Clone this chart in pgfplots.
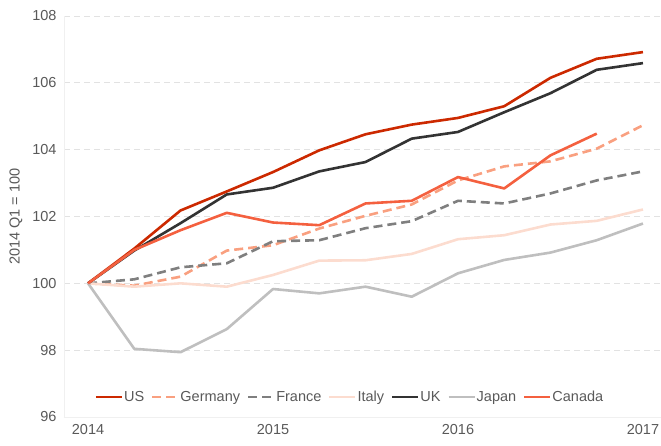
\documentclass[border=0pt]{standalone}
\usepackage{pgfplots}
\pgfplotsset{compat=1.18}
\usepackage{fontspec}
\setmainfont{Liberation Sans}
\definecolor{cUS}{HTML}{CC2900}
\definecolor{cDE}{HTML}{F9A080}
\definecolor{cFR}{HTML}{7F7F7F}
\definecolor{cIT}{HTML}{FCDCCF}
\definecolor{cUK}{HTML}{333333}
\definecolor{cJP}{HTML}{BFBFBF}
\definecolor{cCA}{HTML}{F4603F}
\definecolor{txt}{HTML}{595959}
\definecolor{gridc}{HTML}{E2E2E2}
\begin{document}
\begin{tikzpicture}
\useasboundingbox (-64pt,-28pt) rectangle (597pt,417pt);
\begin{axis}[
  at={(0pt,0pt)}, anchor=south west,
  scale only axis, width=597pt, height=401pt,
  xmin=-0.52, xmax=12.39, ymin=96, ymax=108,
  xtick={0,4,8,12}, xticklabels={2014,2015,2016,2017},
  ytick={96,98,...,108},
  /pgf/number format/assume math mode=true,
  tick label style={font=\fontsize{14.5}{17}\selectfont, text=txt},
  major tick length=0pt,
  xticklabel style={yshift=-4pt},
  yticklabel style={xshift=-4pt},
  axis x line*=bottom, axis y line*=left,
  axis line style={-, draw=black!6, line width=0.8pt},
  ymajorgrids,
  grid style={gridc, dash pattern=on 6pt off 4pt, line width=0.9pt},
  ylabel={2014 Q1 = 100},
  every axis y label/.style={at={(axis description cs:-0.0804,0.5)}, anchor=center, rotate=90, font=\fontsize{14.5}{17}\selectfont, text=txt},
  legend columns=7,
  legend style={at={(0.478,0.05)}, anchor=center, draw=none, fill=none,
    font=\fontsize{14.5}{17}\selectfont, text=txt, inner sep=0pt,
    nodes={inner sep=0.8pt},
    /tikz/every even column/.append style={column sep=6pt}},
  legend image code/.code={\draw[#1] (0pt,0pt) -- (26pt,0pt);},
  every axis plot/.append style={line width=2.6pt, line join=round},
]
\addplot[cUS] coordinates {(0,100) (1,101.04) (2,102.18) (3,102.75) (4,103.33) (5,103.98) (6,104.46) (7,104.75) (8,104.95) (9,105.30) (10,106.15) (11,106.72) (12,106.92)};
\addlegendentry{US}
\addplot[cDE, dash pattern=on 9pt off 5pt] coordinates {(0,100) (1,99.93) (2,100.20) (3,100.98) (4,101.14) (5,101.64) (6,102.02) (7,102.36) (8,103.08) (9,103.50) (10,103.65) (11,104.03) (12,104.73)};
\addlegendentry{Germany}
\addplot[cFR, dash pattern=on 9pt off 5pt] coordinates {(0,100) (1,100.12) (2,100.48) (3,100.60) (4,101.26) (5,101.29) (6,101.65) (7,101.86) (8,102.47) (9,102.39) (10,102.69) (11,103.08) (12,103.35)};
\addlegendentry{France}
\addplot[cIT] coordinates {(0,100) (1,99.90) (2,100.00) (3,99.90) (4,100.25) (5,100.68) (6,100.69) (7,100.88) (8,101.32) (9,101.44) (10,101.76) (11,101.87) (12,102.21)};
\addlegendentry{Italy}
\addplot[cUK] coordinates {(0,100) (1,100.98) (2,101.80) (3,102.66) (4,102.86) (5,103.35) (6,103.63) (7,104.33) (8,104.53) (9,105.12) (10,105.69) (11,106.39) (12,106.59)};
\addlegendentry{UK}
\addplot[cJP] coordinates {(0,100) (1,98.04) (2,97.94) (3,98.63) (4,99.83) (5,99.70) (6,99.90) (7,99.60) (8,100.30) (9,100.70) (10,100.92) (11,101.29) (12,101.79)};
\addlegendentry{Japan}
\addplot[cCA] coordinates {(0,100) (1,101.0) (2,101.59) (3,102.11) (4,101.82) (5,101.74) (6,102.39) (7,102.47) (8,103.18) (9,102.84) (10,103.83) (11,104.48)};
\addlegendentry{Canada}
\end{axis}
\end{tikzpicture}
\end{document}
